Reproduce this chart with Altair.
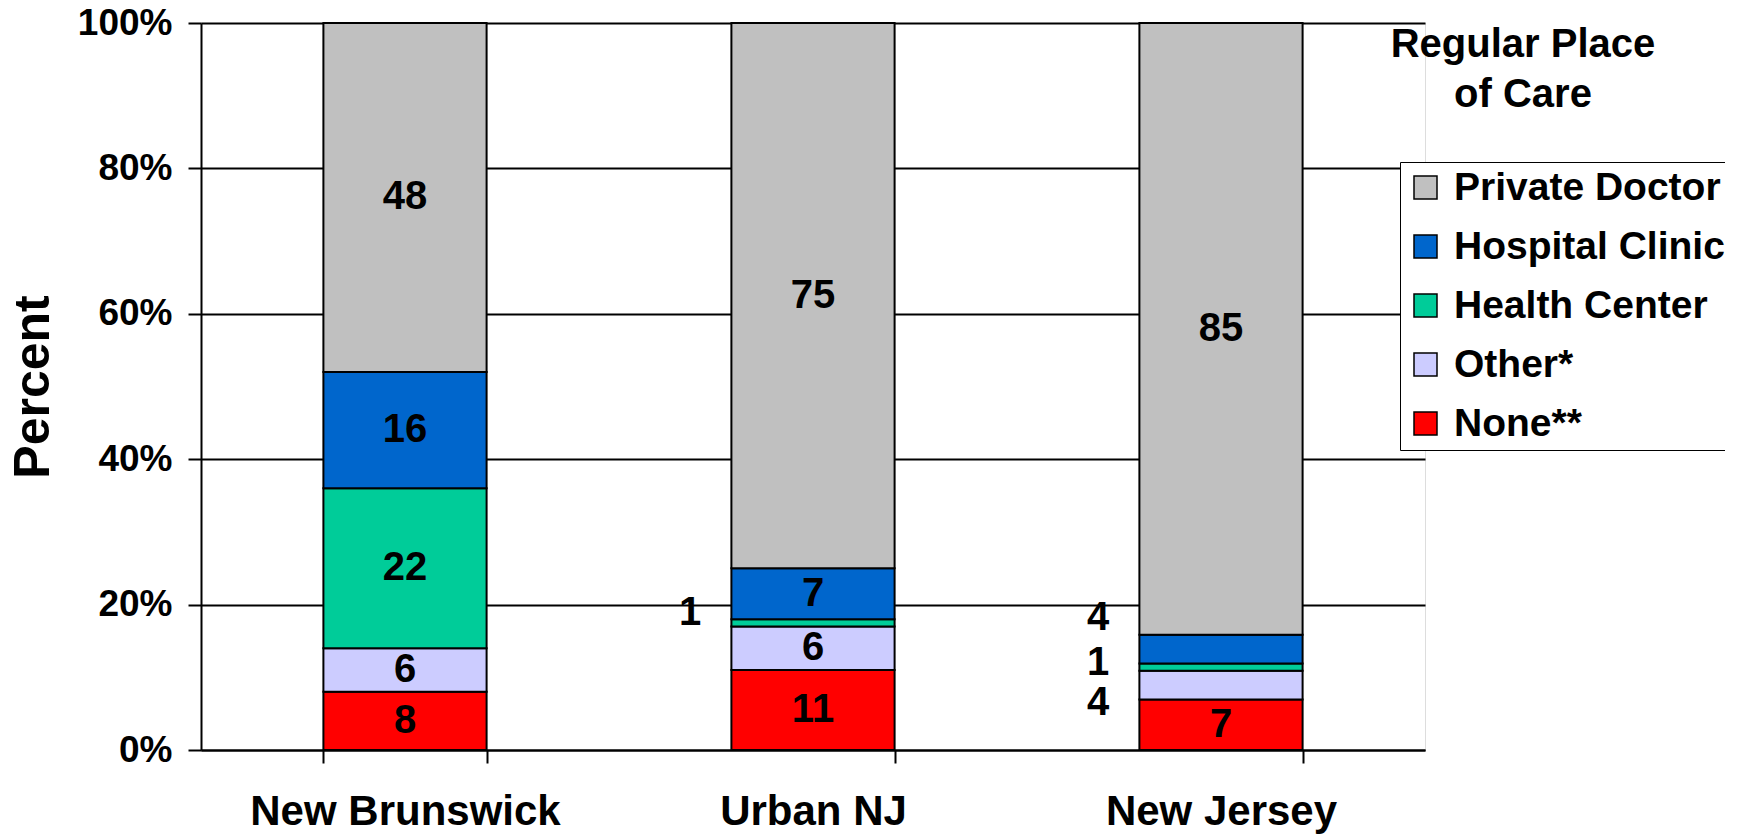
import altair as alt
import pandas as pd

REGIONS = ["New Brunswick", "Urban NJ", "New Jersey"]
# categories listed bottom-to-top of each bar
CATEGORIES = ["None**", "Other*", "Health Center", "Hospital Clinic", "Private Doctor"]
NONE_VALS = [8, 11, 7]
OTHER_VALS = [6, 6, 4]
HEALTH_CENTER_VALS = [22, 1, 1]
HOSPITAL_CLINIC_VALS = [16, 7, 4]
PRIVATE_DOCTOR_VALS = [48, 75, 85]
COLORS = ["#FF0000", "#CCCCFF", "#00CC99", "#0066CC", "#C0C0C0"]
LEGEND_ORDER = ["Private Doctor", "Hospital Clinic", "Health Center", "Other*", "None**"]
TITLE_LINES = ["Regular Place", "of Care"]

series = [NONE_VALS, OTHER_VALS, HEALTH_CENTER_VALS, HOSPITAL_CLINIC_VALS, PRIVATE_DOCTOR_VALS]
rows = []
for ci, (cat, vals) in enumerate(zip(CATEGORIES, series)):
    for ri, reg in enumerate(REGIONS):
        rows.append({"region": reg, "category": cat, "value": vals[ri], "order": ci})
df = pd.DataFrame(rows)

FONT = "Liberation Sans, Arial, Helvetica, sans-serif"
color_map = dict(zip(CATEGORIES, COLORS))

base = alt.Chart(df).transform_stack(
    stack="value",
    groupby=["region"],
    as_=["y0", "y1"],
    offset="normalize",
    sort=[alt.SortField("order", order="ascending")],
).transform_calculate(mid="(datum.y0 + datum.y1) / 2")

x_enc = alt.X(
    "region:N",
    sort=REGIONS,
    scale=alt.Scale(paddingInner=0.6, paddingOuter=0.3),
    axis=alt.Axis(
        title=None,
        labelAngle=0,
        labelFontSize=42,
        labelFont=FONT,
        labelFontWeight="bold",
        labelColor="black",
        labelLimit=500,
        labelPadding=28,
        tickBand="extent",
        tickSize=13,
        tickColor="black",
        tickWidth=2,
        domainColor="black",
        domainWidth=2,
        grid=False,
    ),
)

bars = base.mark_bar(stroke="black", strokeWidth=2).encode(
    x=x_enc,
    y=alt.Y(
        "y0:Q",
        scale=alt.Scale(domain=[0, 1], nice=False),
        axis=alt.Axis(
            title="Percent",
            titleFontSize=50,
            titleFont=FONT,
            titleFontWeight="bold",
            titleColor="black",
            titleX=-168,
            titleAlign="center",
            titleBaseline="middle",
            titleAngle=270,
            format=".0%",
            values=[0, 0.2, 0.4, 0.6, 0.8, 1.0],
            labelFontSize=37,
            labelFont=FONT,
            labelFontWeight="bold",
            labelColor="black",
            labelPadding=16,
            tickSize=13,
            tickColor="black",
            tickWidth=2,
            domainColor="black",
            domainWidth=2,
            grid=True,
            gridColor="black",
            gridWidth=2,
        ),
    ),
    y2="y1:Q",
    color=alt.Color(
        "category:N",
        scale=alt.Scale(domain=LEGEND_ORDER, range=[color_map[c] for c in LEGEND_ORDER]),
        legend=alt.Legend(
            title=None,
            orient="none",
            legendX=1199,
            legendY=139,
            symbolType="square",
            symbolSize=529,
            symbolStrokeColor="black",
            symbolStrokeWidth=1.5,
            symbolOpacity=1,
            labelFontSize=39,
            labelFont=FONT,
            labelFontWeight="bold",
            labelColor="black",
            labelLimit=400,
            labelOffset=9,
            rowPadding=19,
            padding=6,
            strokeColor="black",
            fillColor="white",
        ),
    ),
)

text_style = dict(fontSize=40, font=FONT, fontWeight="bold", color="black", baseline="middle")

inside = base.transform_filter("datum.value >= 5").mark_text(**text_style).encode(
    x=alt.X("region:N", sort=REGIONS), y="mid:Q", text="value:Q"
)

def outside(region, cat, dy):
    return base.transform_filter(
        f"datum.region == '{region}' && datum.category == '{cat}'"
    ).mark_text(dx=-123, dy=dy, **text_style).encode(
        x=alt.X("region:N", sort=REGIONS), y="mid:Q", text="value:Q"
    )

outs = [
    outside("Urban NJ", "Health Center", -10),
    outside("New Jersey", "Hospital Clinic", -31),
    outside("New Jersey", "Health Center", -4),
    outside("New Jersey", "Other*", 18),
]

title_df = pd.DataFrame({"k": [0]})
title_mark = alt.Chart(title_df).mark_text(
    fontSize=40,
    font=FONT,
    fontWeight="bold",
    color="black",
    align="center",
    baseline="top",
    lineHeight=50,
).encode(
    x=alt.value(1322),
    y=alt.value(2),
    text=alt.value(TITLE_LINES),
)

chart = alt.layer(bars, inside, *outs, title_mark).properties(
    width=1224,
    height=727,
    autosize=alt.AutoSizeParams(type="none"),
    padding={"left": 193, "top": 15, "right": 300, "bottom": 92},
).configure_view(stroke=None).configure(background="white")

chart.save("out.html", embed_options={"renderer": "svg", "actions": False})
